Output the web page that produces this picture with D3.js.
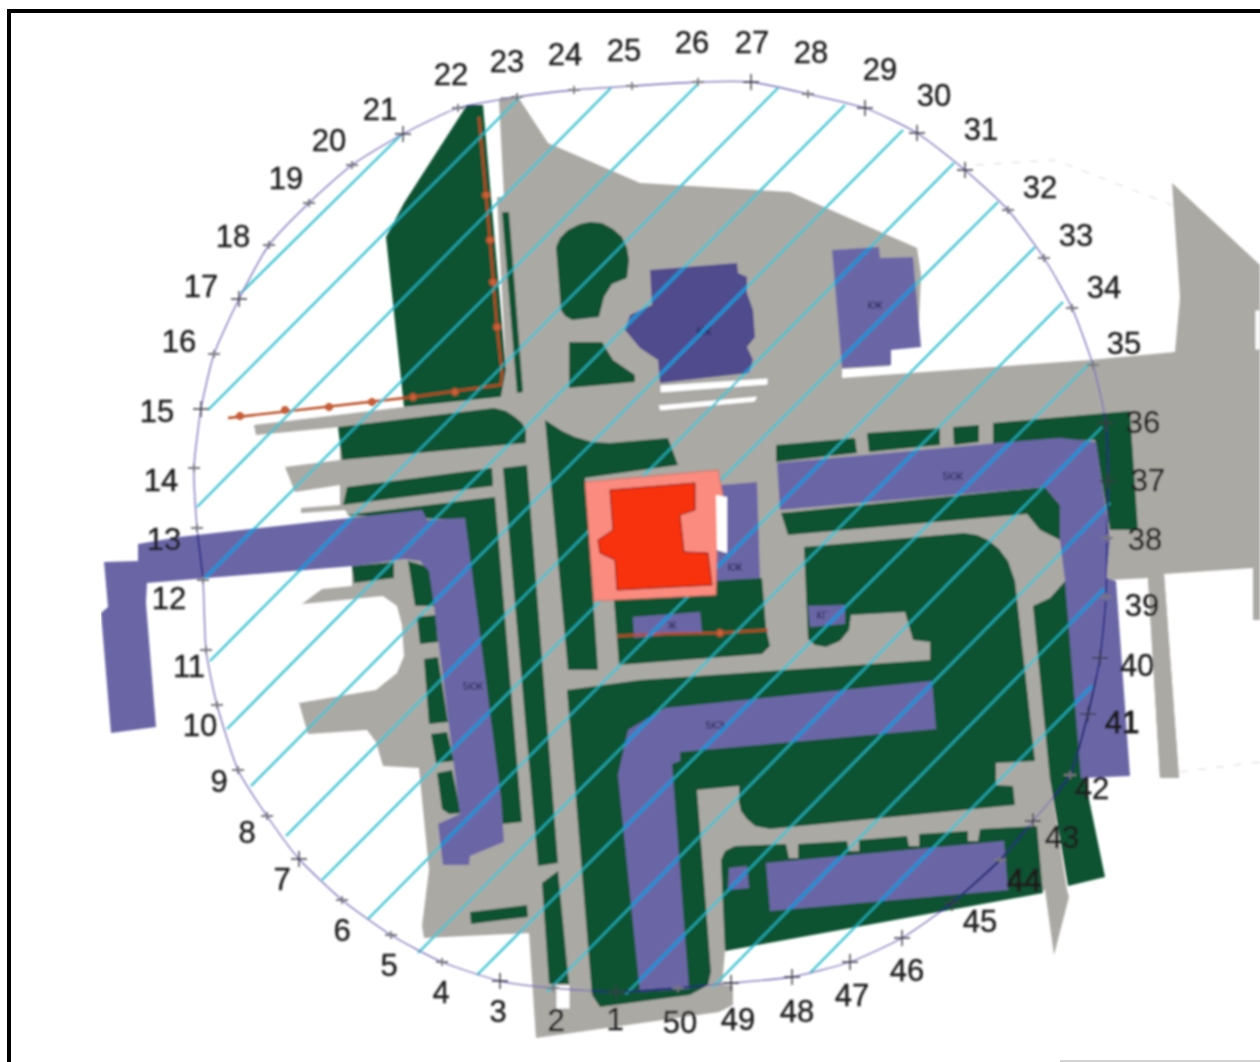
<!DOCTYPE html>
<html>
<head>
<meta charset="utf-8">
<style>
  html, body { margin: 0; padding: 0; background: #fff; }
  svg { display: block; }
  text { font-family: "Liberation Sans", Arial, sans-serif; }
</style>
<script src="https://cdn.jsdelivr.net/npm/d3@7"></script>
</head>
<body>
<div id="plan"></div>
<script>
// everything below is in plan units
const planSize = [1260, 1062];

const groundAreas = [
  [[501,97],[518,97],[548,143],[640,183],[790,192],[917,248],[921,275],[918,345],[890,347],[890,366],[842,369],[842,378],[1090,360],[1175,352],[1180,297],[1172,183],[1260,265],[1260,620],[1253,620],[1253,568],[1164,574],[1179,778],[1160,778],[1148,578],[1110,580],[1075,780],[1050,780],[1067,890],[1069,897],[1054,955],[1045,890],[725,951],[722,985],[733,985],[733,1005],[719,1012],[536,1038],[529,933],[424,938],[422,926],[429,870],[419,768],[383,766],[376,742],[367,730],[308,734],[299,703],[376,690],[397,673],[404,656],[402,625],[397,606],[383,596],[302,604],[322,589],[352,586],[352,520],[345,510],[301,513],[301,508],[340,505],[340,485],[295,492],[285,467],[340,460],[340,427],[256,435],[254,425],[404,407],[501,397],[506,370],[497,197],[504,197],[499,100]],
  [[1148,578],[1164,574],[1179,778],[1160,778]]
];

const greenAreas = [
  [[467,105],[483,105],[506,370],[501,397],[404,407],[386,237],[404,203]],
  [[502,212],[509,212],[523,392],[517,393]],
  [[556,247],[560,238],[568,230],[580,224],[590,222],[602,223],[613,229],[622,237],[627,248],[629,260],[627,278],[612,284],[604,297],[599,317],[572,320],[565,316],[561,310]],
  [[569,342],[602,342],[613,360],[635,375],[635,382],[569,388]],
  [[338,427],[494,408],[506,411],[515,417],[522,423],[526,430],[526,443],[342,460]],
  [[347,487],[492,468],[493,486],[343,505]],
  [[503,468],[527,465],[558,863],[538,866]],
  [[345,515],[495,497],[522,822],[502,824],[465,530],[465,520]],
  [[352,566],[394,562],[394,578],[354,583]],
  [[408,561],[429,567],[435,606],[415,606]],
  [[417,617],[436,615],[438,642],[420,644]],
  [[424,659],[438,657],[448,722],[429,724]],
  [[431,734],[447,732],[454,761],[436,763]],
  [[437,773],[452,770],[461,813],[449,814],[442,809]],
  [[542,883],[558,871],[569,984],[549,984]],
  [[470,912],[527,905],[528,917],[471,924]],
  [[545,420],[562,431],[575,437],[592,442],[610,443],[668,438],[678,465],[585,478],[598,670],[568,670]],
  [[614,600],[715,579],[762,578],[766,628],[770,646],[762,654],[619,665]],
  [[567,690],[640,680],[930,660],[930,642],[913,640],[905,612],[851,615],[849,630],[840,641],[826,647],[815,645],[808,639],[804,547],[964,533],[977,535],[988,540],[999,549],[1008,561],[1015,581],[1035,761],[996,763],[996,785],[1013,786],[1015,805],[770,829],[755,826],[747,819],[741,811],[739,802],[739,786],[697,790],[711,972],[708,985],[690,995],[600,1007],[592,995]],
  [[721,860],[725,851],[735,846],[786,844],[789,858],[798,858],[798,844],[847,841],[849,851],[859,851],[859,840],[907,836],[909,846],[919,846],[919,834],[968,831],[968,841],[978,841],[980,829],[1037,826],[1043,893],[725,951]],
  [[1033,606],[1050,598],[1075,570],[1100,700],[1085,780],[1105,877],[1068,886],[1050,780]],
  [[776,445],[855,438],[857,453],[776,462]],
  [[867,433],[940,428],[940,445],[869,452]],
  [[953,427],[979,425],[979,442],[954,445]],
  [[993,423],[1130,411],[1138,530],[1110,530],[1095,440],[993,445]],
  [[781,513],[1045,487],[1060,505],[1060,540],[1040,530],[1027,514],[788,535]]
];

const buildingAreas = [
  [[104,562],[138,561],[138,544],[179,537],[422,510],[427,520],[465,518],[501,798],[504,842],[470,856],[469,865],[443,865],[438,824],[460,814],[433,598],[429,571],[420,561],[404,559],[354,566],[147,583],[146,603],[156,727],[111,733],[101,613],[108,607]],
  [[628,730],[665,708],[932,681],[936,729],[680,752],[680,761],[672,764],[689,989],[640,992],[618,775]],
  [[777,463],[998,443],[1060,438],[1096,442],[1110,540],[1106,578],[1116,581],[1130,776],[1081,778],[1065,581],[1060,540],[1060,505],[1045,487],[780,510]],
  [[1004,841],[1008,890],[770,911],[766,863]],
  [[729,868],[747,866],[749,888],[728,890]],
  [[808,606],[845,605],[845,624],[810,627]],
  [[633,617],[700,612],[702,632],[634,638]],
  [[721,485],[757,482],[760,578],[715,581]],
  [[832,250],[879,247],[880,258],[913,257],[921,347],[891,350],[891,365],[842,368]]
];

const darkBuilding = [[650,270],[737,263],[738,273],[747,277],[747,293],[753,310],[755,337],[747,347],[753,360],[749,373],[660,383],[658,360],[640,348],[625,330],[630,315],[652,305]];

const whiteAreas = [
  [[660,385],[768,378],[768,385],[660,393]],
  [[658,405],[758,396],[755,402],[660,411]],
  [[556,985],[570,985],[570,1009],[556,1009]],
  [[1255,310],[1260,310],[1260,350],[1255,350]]
];
const hallWindow = [[716,495],[727,497],[727,553],[717,550]];

const salmonHall = [[585,482],[718,470],[723,495],[717,550],[716,595],[594,601]];
const redHall = [[610,490],[695,483],[695,510],[680,515],[684,552],[708,553],[712,585],[617,590],[615,560],[600,553],[598,540],[613,530]];

const pipeNorth = [[228,418],[413,397],[477,388],[501,385],[502,373],[497,327],[490,240],[479,117]];
const pipeNorthNodes = [[240,416],[285,410],[329,407],[372,402],[413,397],[455,392],[497,327],[493,282],[490,240],[486,195]];
const pipeSouth = [[617,636],[660,634],[718,633],[768,630]];
const pipeSouthNodes = [[720,633]];

const faintLines = [
  [[976,165],[1055,160],[1172,205]],
  [[1180,772],[1260,762]]
];

const buildingTags = [
  ['5КЖ', 473, 686], ['5КЭ', 715, 725], ['5КЖ', 953, 476], ['КЖ', 704, 331],
  ['КЖ', 875, 305], ['КЖ', 735, 567], ['Ж', 672, 625], ['КГ', 822, 615]
];

const hatchLines = [
  [[241,293],[401,135]], [[208,410],[519,98]], [[197,507],[611,88]], [[205,578],[698,84]],
  [[210,661],[778,88]], [[227,729],[845,105]], [[251,786],[903,130]], [[286,836],[954,163]],
  [[322,880],[998,202]], [[368,919],[1035,247]], [[418,953],[1063,302]], [[477,975],[1090,363]],
  [[547,992],[1102,427]], [[626,994],[1110,503]], [[713,987],[1104,589]], [[810,973],[1092,686]]
];

const stationNumbers = d3.range(1, 51);
const stationPoints = [
  [616,992],[553,988],[500,981],[442,962],[391,935],[342,900],[299,859],[267,816],[238,770],[217,705],
  [206,650],[203,580],[197,528],[194,468],[201,409],[214,354],[239,299],[269,245],[309,203],[352,165],
  [403,134],[458,108],[517,97],[574,90],[632,86],[698,82],[751,82],[808,94],[865,108],[917,133],
  [965,170],[1008,210],[1044,258],[1072,308],[1093,365],[1106,423],[1108,481],[1107,538],[1106,597],[1100,658],
  [1088,714],[1070,775],[1033,821],[1000,860],[952,903],[902,938],[850,962],[792,977],[731,983],[678,988]
];
const stationLabelPoints = [
  [615,1019],[556,1020],[498,1011],[441,992],[389,965],[342,930],[282,879],[247,832],[219,781],[200,725],
  [189,666],[169,598],[164,539],[161,480],[157,411],[179,341],[201,286],[233,236],[286,178],[329,140],
  [380,109],[451,74],[507,61],[565,54],[624,50],[692,42],[752,42],[811,52],[880,69],[934,95],
  [981,129],[1040,187],[1076,235],[1104,287],[1124,343],[1143,422],[1148,480],[1145,539],[1142,605],[1137,665],
  [1122,722],[1092,788],[1062,837],[1024,880],[980,921],[907,970],[852,995],[797,1011],[738,1019],[680,1022]
];
// stations whose cross prints sharp and full size on the scan
const sharpStations = [1, 3, 7, 15, 17, 21, 27, 29, 30, 31, 36, 37, 40, 41, 43, 45, 46, 47, 48, 49];
const heavyLabels = [41, 44];

const width = 1260, height = 1062;

const x = d3.scaleLinear().domain([0, planSize[0]]).range([0, width]);
const y = d3.scaleLinear().domain([0, planSize[1]]).range([0, height]);

const poly = d3.line().x(d => x(d[0])).y(d => y(d[1])).curve(d3.curveLinearClosed);
const open = d3.line().x(d => x(d[0])).y(d => y(d[1]));
const ring = d3.line().x(d => x(d[0])).y(d => y(d[1])).curve(d3.curveCardinalClosed.tension(0.4));

const svg = d3.select('#plan')
  .append('svg')
  .attr('width', width)
  .attr('height', height);

const defs = svg.append('defs');

// the source is a soft scan, so the whole plan gets a slight blur
defs.append('filter')
  .attr('id', 'scan')
  .attr('x', 0).attr('y', 0).attr('width', 1).attr('height', 1)
  .append('feGaussianBlur')
  .attr('stdDeviation', 0.8);

function addClip(id, areas) {
  defs.append('clipPath').attr('id', id)
    .selectAll('path')
    .data(areas)
    .enter().append('path')
    .attr('d', poly);
}
addClip('clip-green', greenAreas);
addClip('clip-building', buildingAreas.concat([darkBuilding]));

const plan = svg.append('g').attr('filter', 'url(#scan)');

function drawAreas(areas, fill) {
  return plan.append('g')
    .selectAll('path')
    .data(areas)
    .enter().append('path')
    .attr('d', poly)
    .attr('fill', fill);
}

plan.append('g')
  .selectAll('path')
  .data(faintLines)
  .enter().append('path')
  .attr('d', open)
  .attr('fill', 'none')
  .attr('stroke', '#d8d8d8')
  .attr('stroke-width', 1)
  .attr('stroke-dasharray', '8 10');

drawAreas(groundAreas, '#aba9a4');
drawAreas(greenAreas, '#0b5333');
drawAreas(buildingAreas, '#6a66a6');
drawAreas([darkBuilding], '#504c8c');
drawAreas(whiteAreas, '#fff')
  .attr('stroke', '#8a8a86')
  .attr('stroke-width', 0.6);

// pipes with their nodes
[[pipeNorth, pipeNorthNodes], [pipeSouth, pipeSouthNodes]].forEach(([pipe, nodes]) => {
  plan.append('path').datum(pipe)
    .attr('d', open)
    .attr('fill', 'none')
    .attr('stroke', '#b9491d')
    .attr('stroke-width', 2.4);
  plan.append('g').selectAll('circle')
    .data(nodes)
    .enter().append('circle')
    .attr('cx', d => x(d[0]))
    .attr('cy', d => y(d[1]))
    .attr('r', 3.5)
    .attr('fill', '#c9603a')
    .attr('stroke', '#b9491d');
});

plan.append('g')
  .selectAll('text')
  .data(buildingTags)
  .enter().append('text')
  .attr('x', d => x(d[1]))
  .attr('y', d => y(d[2]))
  .attr('text-anchor', 'middle')
  .attr('dominant-baseline', 'central')
  .attr('font-size', 10)
  .attr('fill', '#1e1b48')
  .text(d => d[0]);

// hatching changes colour with what lies under it
function drawHatch(stroke, w, clip) {
  const g = plan.append('g');
  if (clip) g.attr('clip-path', `url(#${clip})`);
  g.selectAll('path')
    .data(hatchLines)
    .enter().append('path')
    .attr('d', open)
    .attr('fill', 'none')
    .attr('stroke', stroke)
    .attr('stroke-width', w);
}
drawHatch('#3cc4d2', 2.4);
drawHatch('#1b9c9e', 2.4, 'clip-green');
drawHatch('#1c8fd4', 3.6, 'clip-building');

// the hall sits on top of the hatching
plan.append('path').datum(salmonHall).attr('d', poly).attr('fill', '#fb8b7e').attr('stroke', '#c9665c').attr('stroke-width', 0.8);
plan.append('path').datum(hallWindow).attr('d', poly).attr('fill', '#fff');
plan.append('path').datum(redHall).attr('d', poly).attr('fill', '#f7300d').attr('stroke', '#7a1c10').attr('stroke-width', 1);

// survey circle through the stations, darker where it crosses buildings
function drawRing(stroke, w, clip) {
  const p = plan.append('path')
    .datum(stationPoints)
    .attr('d', ring)
    .attr('fill', 'none')
    .attr('stroke', stroke)
    .attr('stroke-width', w);
  if (clip) p.attr('clip-path', `url(#${clip})`);
}
drawRing('#7a70b8', 1.3);
drawRing('#2a2a86', 1.8, 'clip-building');
drawRing('#1c2a70', 1.8, 'clip-green');

const stations = plan.append('g')
  .selectAll('path')
  .data(stationNumbers)
  .enter().append('path')
  .attr('transform', (d, i) => `translate(${x(stationPoints[i][0])},${y(stationPoints[i][1])})`)
  .attr('d', d => sharpStations.includes(d) ? 'M-8,0H8M0,-8V8' : 'M-6,0H6M0,-4V4')
  .attr('stroke', d => sharpStations.includes(d) ? '#3a3a44' : '#77777f')
  .attr('stroke-width', d => sharpStations.includes(d) ? 1.4 : 1.8);

plan.append('g')
  .selectAll('text')
  .data(stationNumbers)
  .enter().append('text')
  .attr('x', (d, i) => x(stationLabelPoints[i][0]))
  .attr('y', (d, i) => y(stationLabelPoints[i][1]))
  .attr('text-anchor', 'middle')
  .attr('dominant-baseline', 'central')
  .attr('font-size', 31)
  .attr('fill', '#1f1f1f')
  .attr('stroke', '#1f1f1f')
  .attr('stroke-width', d => heavyLabels.includes(d) ? 1.2 : 0.4)
  .text(d => d);

// black frame of the scan: top and left only, faint grey along the bottom
svg.append('path')
  .attr('d', `M${x(9)},${y(planSize[1])}V${y(11)}H${x(planSize[0])}`)
  .attr('fill', 'none')
  .attr('stroke', '#000')
  .attr('stroke-width', 4);
svg.append('line')
  .attr('x1', x(1060)).attr('x2', x(planSize[0]))
  .attr('y1', y(1061)).attr('y2', y(1061))
  .attr('stroke', '#c4c4c4')
  .attr('stroke-width', 1.5);
</script>
</body>
</html>
